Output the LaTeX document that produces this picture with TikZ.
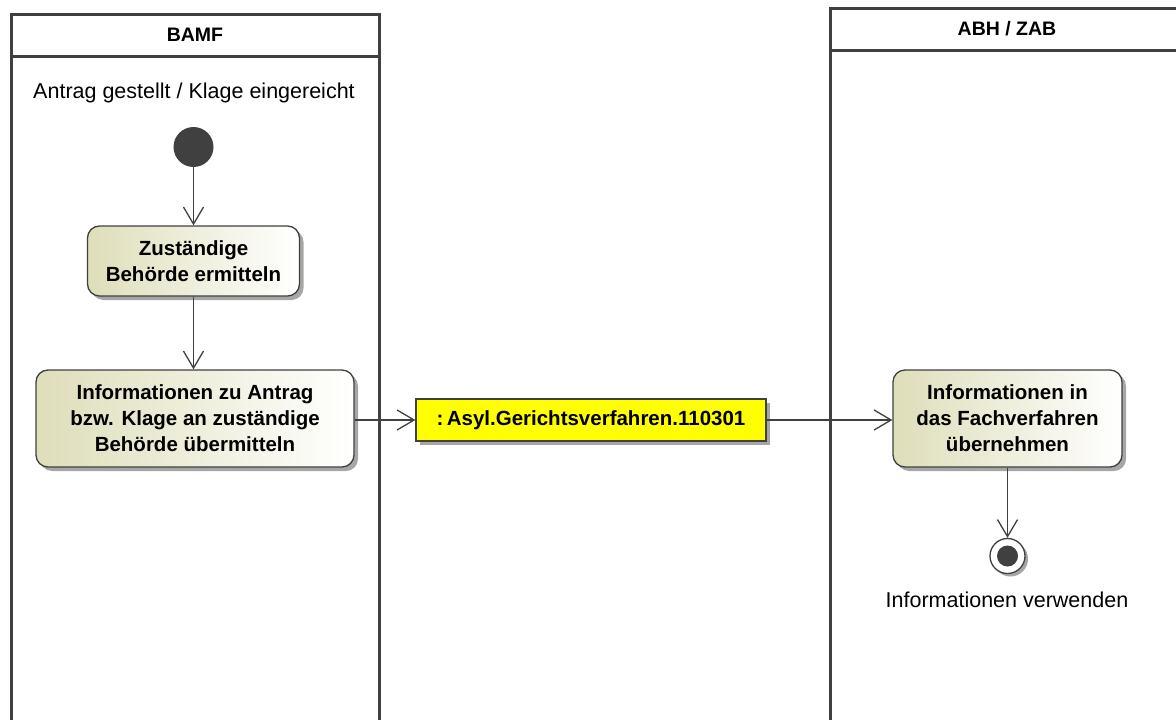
\documentclass[tikz,border=0pt]{standalone}
\usepackage{fontspec}
\setmainfont{Liberation Sans}
\usetikzlibrary{arrows.meta,shadows}
\definecolor{ln}{RGB}{64,64,64}
\definecolor{act}{RGB}{222,222,186}
\definecolor{objy}{RGB}{255,255,0}
\tikzset{
  lane/.style={draw=ln,line width=3pt},
  lanehead/.style={draw=ln,line width=3pt,minimum height=42pt,font=\fontsize{19.5}{22}\selectfont\bfseries,inner sep=0pt,outer sep=0pt},
  action/.style={draw=ln,line width=1.3pt,rounded corners=12pt,left color=act,right color=white,
    align=center,font=\fontsize{20.5}{26}\selectfont\bfseries,inner sep=0pt,
    drop shadow={shadow xshift=4pt,shadow yshift=-4pt,fill=black!35,opacity=1}},
  objnode/.style={draw=ln,line width=1.3pt,fill=objy,font=\fontsize{20.5}{24}\selectfont\bfseries,inner sep=0pt,
    drop shadow={shadow xshift=4pt,shadow yshift=-4pt,fill=black!35,opacity=1}},
  flow/.style={draw=ln,line width=1.3pt,-{Straight Barb[length=17pt,width=20pt,line width=1.3pt]}},
  plain/.style={font=\fontsize{21.5}{24}\selectfont,inner sep=0pt}
}
\begin{document}
\begin{tikzpicture}[x=1pt,y=-1pt]
\useasboundingbox (0,0) rectangle (1176,720);
% lanes
\node[lanehead,minimum width=368pt] (bamf) at (195,35) {BAMF};
\draw[lane] (bamf.south west) -- (11,722);
\draw[lane] (bamf.south east) -- (379,722);
\draw[lane] (830,8) -- (1178,8);
\draw[lane] (830,50) -- (1178,50);
\draw[lane] (830,6.5) -- (830,722);
\node[font=\fontsize{19.5}{22}\selectfont\bfseries] (abh) at (1007,29) {ABH / ZAB};
% start
\node[plain] (startlbl) at (194,93) {Antrag gestellt / Klage eingereicht};
\node[circle,fill=ln,minimum size=40pt,inner sep=0pt] (start) at (193.5,147) {};
% actions
\node[action,minimum width=212pt,minimum height=70pt] (a1) at (193.5,261) {Zuständige\\Behörde ermitteln};
\node[action,minimum width=318pt,minimum height=97pt] (a2) at (195,418.5) {Informationen zu Antrag\\bzw. Klage an zuständige\\Behörde übermitteln};
\node[objnode,minimum width=350pt,minimum height=42pt] (obj) at (591,420) {:\,Asyl.Gerichtsverfahren.110301};
\node[action,minimum width=229pt,minimum height=97pt] (a3) at (1007.5,418.5) {Informationen in\\das Fachverfahren\\übernehmen};
% end
\node[circle,draw=ln,line width=1.3pt,fill=white,minimum size=35pt,inner sep=0pt,
  drop shadow={shadow xshift=3pt,shadow yshift=-3pt,fill=black!35,opacity=1}] (end) at (1007.5,556) {};
\node[circle,fill=ln,minimum size=21pt,inner sep=0pt] (endin) at (end.center) {};
\node[plain] (endlbl) at (1007,600) {Informationen verwenden};
% flows
\draw[flow] (start) -- (a1);
\draw[flow] (a1) -- (a1|-a2.north);
\draw[flow] (a2.east|-obj) -- (obj.west);
\draw[flow] (obj.east) -- (a3.west|-obj);
\draw[flow] (a3.south) -- (end.north);
\end{tikzpicture}
\end{document}
